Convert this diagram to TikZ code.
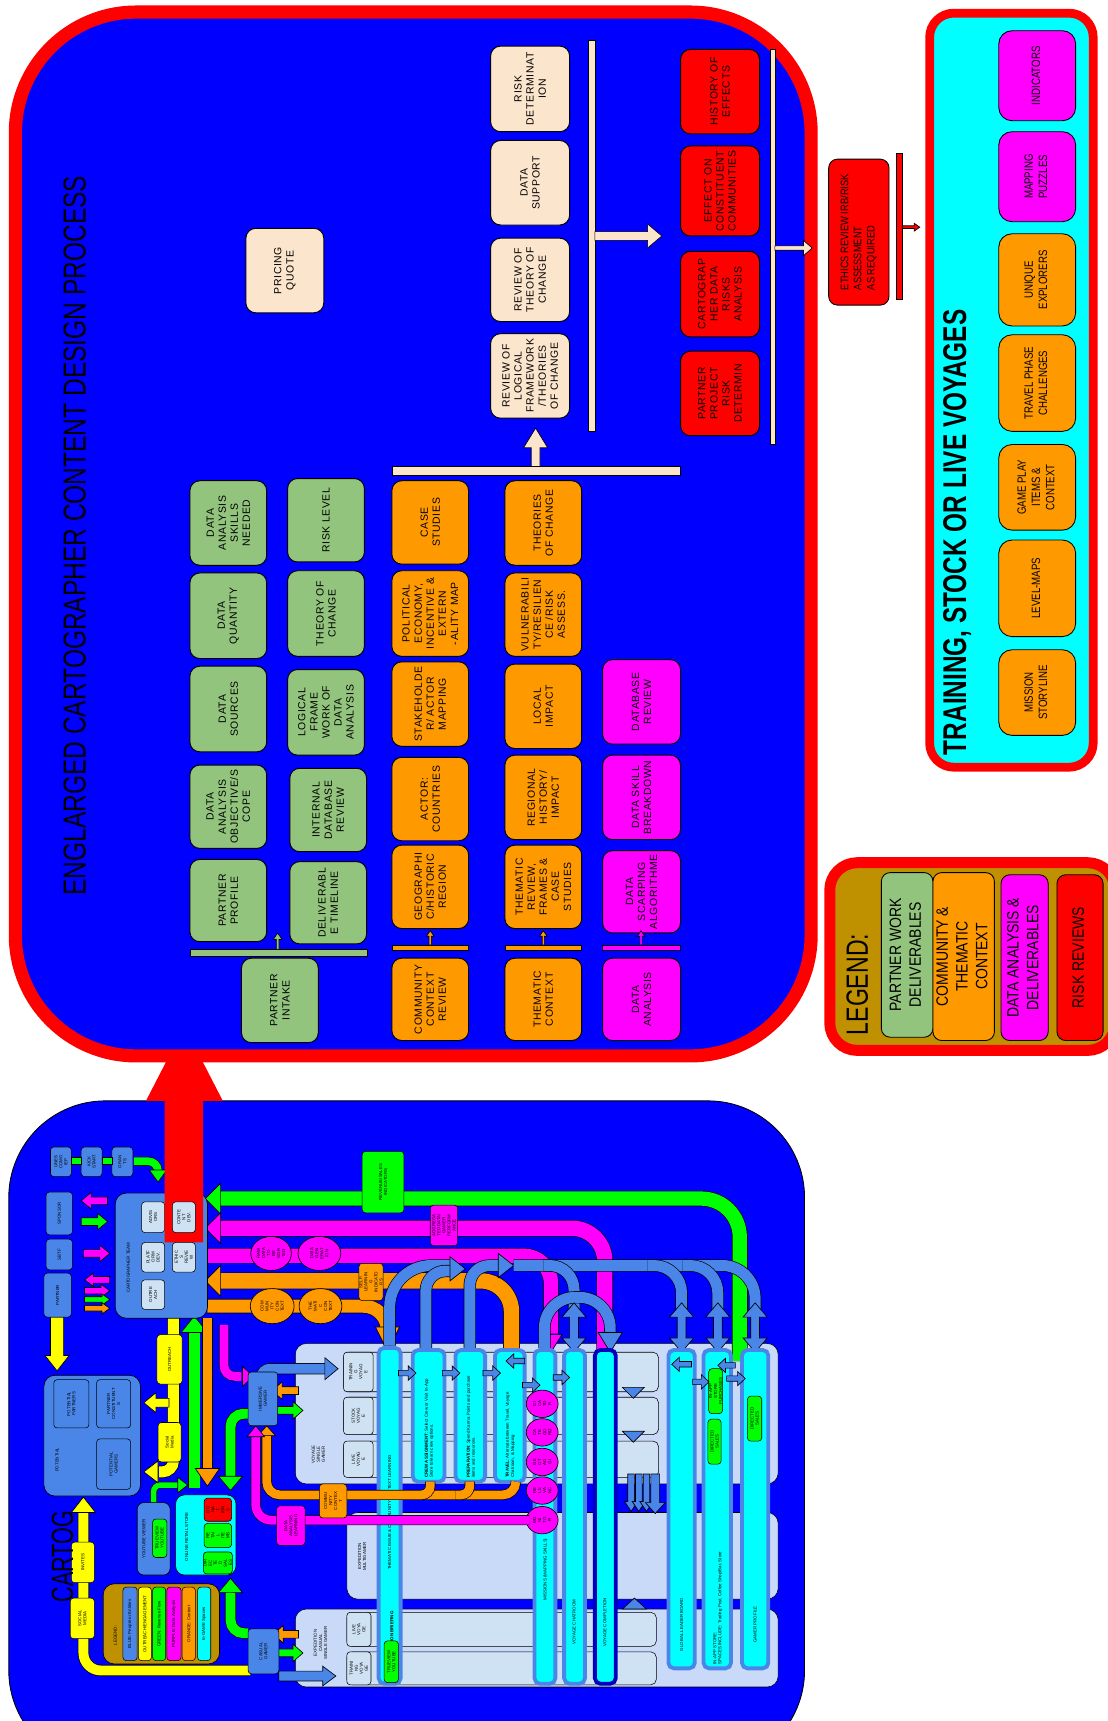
\documentclass[tikz,border=0pt]{standalone}
\usepackage{fontspec}
\usepackage{graphicx}
\setmainfont{Liberation Sans}
\newfontfamily\bxfont[LetterSpace=6]{Liberation Sans}
\usetikzlibrary{shapes.geometric}
\definecolor{pgreen}{HTML}{93C47D}
\definecolor{porange}{HTML}{FF9900}
\definecolor{pbeige}{HTML}{FCE5CD}
\definecolor{bblue}{HTML}{4A86E8}
\definecolor{lpanel}{HTML}{C9DAF8}
\definecolor{lbox}{HTML}{CFE2F3}
\definecolor{lgold}{HTML}{BF9000}
\definecolor{cyan}{RGB}{0,255,255}
\definecolor{magenta}{RGB}{255,0,255}
\definecolor{yellow}{RGB}{255,255,0}
\definecolor{green}{RGB}{0,255,0}
\definecolor{red}{RGB}{255,0,0}
\definecolor{blue}{RGB}{0,0,255}
\newcommand{\tny}{\fontsize{4}{4.6}\selectfont}
\newcommand{\cz}[2]{\scalebox{#1}[1]{\begin{tabular}{@{}c@{}}#2\end{tabular}}}
\newcommand{\cl}[2]{\scalebox{#1}[1]{\begin{tabular}{@{}l@{}}#2\end{tabular}}}
% box: name, x1,y1,x2,y2, style, text (rotated text)
\newcommand{\bx}[7]{\node[#6, rotate=90, minimum width={(#5-#3)*1pt}, minimum height={(#4-#2)*1pt}] (#1) at ({(#2+#4)/2},{(#3+#5)/2}) {#7};}
% arrow head: tip x,y, angle, length, half width, colour
\newcommand{\ah}[6]{\draw[fill=#6, line width=0.6pt, shift={(#1,#2)}, rotate=#3] (0,0) -- (-#4,#5) -- (-#4,-#5) -- cycle;}
% horizontal block arrow: x1, x2(tip), y, shaft w, head w, head l, colour
\newcommand{\hblk}[7]{\pgfmathsetmacro{\hs}{((#2>#1)*2-1)*#6}%
 \draw[fill=#7, line width=0.6pt] (#1,{#3-#4/2}) -- ({#2-\hs},{#3-#4/2}) -- ({#2-\hs},{#3-#5/2}) -- (#2,#3) -- ({#2-\hs},{#3+#5/2}) -- ({#2-\hs},{#3+#4/2}) -- (#1,{#3+#4/2}) -- cycle;}
% vertical block arrow: y1, y2(tip), x, shaft w, head w, head l, colour
\newcommand{\vblk}[7]{\pgfmathsetmacro{\hs}{((#2>#1)*2-1)*#6}%
 \draw[fill=#7, line width=0.6pt] ({#3-#4/2},#1) -- ({#3-#4/2},{#2-\hs}) -- ({#3-#5/2},{#2-\hs}) -- (#3,#2) -- ({#3+#5/2},{#2-\hs}) -- ({#3+#4/2},{#2-\hs}) -- ({#3+#4/2},#1) -- cycle;}
% vertical double block arrow: y1 (top), y2 (bottom), x, shaft w, head w, head l, colour
\newcommand{\dblk}[7]{%
 \draw[fill=#7, line width=0.6pt] ({#3-#4/2},{#1+#6}) -- ({#3-#5/2},{#1+#6}) -- (#3,#1) -- ({#3+#5/2},{#1+#6}) -- ({#3+#4/2},{#1+#6}) -- ({#3+#4/2},{#2-#6}) -- ({#3+#5/2},{#2-#6}) -- (#3,#2) -- ({#3-#5/2},{#2-#6}) -- ({#3-#4/2},{#2-#6}) -- cycle;}
\tikzset{
 tb/.style={draw=black, line width=0.9pt, rounded corners=9pt, inner sep=1pt, align=center, font=\bxfont\fontsize{9.5}{11}\selectfont},
 gb/.style={tb, fill=pgreen}, ob/.style={tb, fill=porange}, mb/.style={tb, fill=magenta},
 beb/.style={tb, fill=pbeige}, rb/.style={tb, fill=red},
 etb/.style={draw=black, line width=0.8pt, rounded corners=8pt, fill=red, inner sep=1pt, align=left, font=\fontsize{10}{12}\selectfont},
 trb/.style={draw=black, line width=0.8pt, rounded corners=12pt, inner sep=1pt, align=center, font=\fontsize{11}{13}\selectfont},
 lgb/.style={draw=black, line width=0.8pt, rounded corners=8pt, inner sep=1pt, align=center, font=\fontsize{15}{18}\selectfont},
 sb/.style={draw=black, line width=0.5pt, rounded corners=3pt, inner sep=0.3pt, align=center, font=\tny},
 sbb/.style={sb, fill=bblue}, slb/.style={sb, fill=lbox}, syb/.style={sb, fill=yellow},
 sgb/.style={sb, fill=green}, smb/.style={sb, fill=magenta}, sob/.style={sb, fill=porange}, srb/.style={sb, fill=red},
 pp/.style 2 args={draw=black, line width=0.6pt, double=#1, double distance=#2},
 lp/.style={draw=black, line width=0.5pt, fill=lpanel, rounded corners=10pt},
 lrow/.style={draw=black, line width=0.5pt, fill=lbox, rounded corners=5pt},
 colst/.style={draw=bblue, line width=3.5pt, fill=cyan, rounded corners=5pt},
 el/.style={ellipse, draw=black, line width=0.6pt, inner sep=0pt, align=center, font=\tny, rotate=90},
 tl/.style={rotate=90, font=\tny, align=center, inner sep=0.5pt}
}
\begin{document}
\begin{tikzpicture}[x=1pt, y=-1pt]
\useasboundingbox (0,0) rectangle (1009,1568);
\fill[white] (0,0) rectangle (1009,1568);

%================ BOTTOM PANEL =================
\draw[fill=blue, line width=0.8pt, rounded corners=88pt] (8,1003) rectangle (733,1610);

% light panels
\draw[lp] (269,1224) rectangle (709,1352);
\draw[lp] (316,1378) rectangle (709,1457);
\draw[lp] (269,1466) rectangle (709,1537);
\draw[lrow] (313,1232) rectangle (600,1268);
\draw[lrow] (313,1273) rectangle (600,1307);
\draw[lrow] (313,1313) rectangle (600,1346);
\draw[lrow] (316,1469) rectangle (598,1500);
\draw[lrow] (316,1505) rectangle (598,1535);
\bx{tvoy}{313}{1232}{340}{1268}{slb}{TRAININ\\G\\VOYAG\\E}
\bx{svoy}{313}{1273}{340}{1307}{slb}{STOCK\\VOYAG\\E}
\bx{lvoy}{313}{1313}{340}{1346}{slb}{LIVE\\VOYAG\\E}
\bx{lvoy2}{316}{1469}{338}{1500}{slb}{LIVE\\VOYA\\GE}
\bx{tvoy2}{316}{1505}{338}{1535}{slb}{TRAINI\\NG\\VOYA\\GE}
\node[tl] (vsg) at (290,1325) {VOYAGE\\SINGLE\\GAMER};
\node[tl] (emg) at (330,1418) {EXPEDITION\\MULTIGAMER};
\node[tl] (ecs) at (292,1497) {EXPEDITION\\CASUAL\\SINGLE GAMER};

% bands from the right
\draw[pp={green}{13pt}, rounded corners=35pt] (196,1092) -- (674,1092) -- (674,1240);
\ah{187}{1092}{180}{14}{14}{green}
\draw[pp={magenta}{14pt}, rounded corners=30pt] (196,1119) -- (551,1119) -- (551,1232);
\ah{187}{1119}{180}{14}{14}{magenta}
\draw[pp={magenta}{13pt}, rounded corners=25pt] (189,1144) -- (502,1144) -- (502,1215);
\ah{502}{1232}{270}{16}{10}{magenta}
\draw[pp={porange}{14pt}, rounded corners=28pt] (196,1167) -- (466,1167) -- (466,1232);
\ah{187}{1167}{180}{14}{14}{porange}
\draw[pp={porange}{12pt}, rounded corners=22pt] (189,1190) -- (353,1190) -- (353,1210);
\ah{353}{1231}{270}{22}{11}{porange}

\bx{rev}{330}{1049}{368}{1105}{sgb}{REVENUE/SALES\\INDICATORS}
\bx{agg}{392}{1098}{417}{1135}{smb}{AGGREGA\\TED DATA/\\GAMER\\PERFORM\\ANCE}
\bx{sli}{327}{1151}{349}{1185}{sob}{SELF-\\LEARNIN\\G\\INDICATO\\RS}
\node[el, fill=magenta, minimum width=31pt, minimum height=37pt] (raw) at (247,1142) {RAW\\DATA\\TO\\BE\\SOR\\TED};
\node[el, fill=magenta, minimum width=31pt, minimum height=39pt] (dgen) at (291,1142) {DATA\\GEN\\ERAT\\ION};
\node[el, fill=porange, minimum width=32pt, minimum height=40pt] (cctx) at (248,1190) {COM\\MUN\\ITY\\CON\\TEXT};
\node[el, fill=porange, minimum width=32pt, minimum height=39pt] (tctx) at (292,1190) {THE\\MATI\\C\\CON\\TEXT};

% blue arches
\draw[pp={bblue}{10pt}, rounded corners=38pt] (355,1226) -- (355,1153) -- (412,1153);
\draw[pp={bblue}{10pt}, rounded corners=18pt] (388,1228) -- (388,1158) -- (410,1158);
\ah{424}{1156}{0}{14}{11}{bblue}
\draw[pp={bblue}{10pt}, rounded corners=18pt] (428,1228) -- (428,1153) -- (455,1153);
\ah{468}{1153}{0}{14}{11}{bblue}
\draw[pp={bblue}{10pt}, rounded corners=30pt] (468,1153) -- (688,1153) -- (688,1195);
\draw[pp={bblue}{10pt}, rounded corners=25pt] (590,1153) -- (621,1153) -- (621,1195);
\draw[pp={bblue}{10pt}, rounded corners=25pt] (622,1153) -- (654,1153) -- (654,1195);
\draw[pp={bblue}{10pt}, rounded corners=22pt] (495,1153) -- (523,1153) -- (523,1195);
\draw[pp={bblue}{10pt}, rounded corners=28pt] (496,1228) -- (496,1182) -- (556,1182) -- (556,1214);
\ah{556}{1232}{270}{18}{11}{bblue}
\dblk{1187}{1232}{523}{8}{22}{13}{bblue}
\dblk{1187}{1232}{621}{8}{22}{13}{bblue}
\dblk{1187}{1232}{654}{8}{22}{13}{bblue}
\dblk{1187}{1232}{688}{8}{22}{13}{bblue}

% columns
\draw[colst] (345,1228) rectangle (365,1534);
\draw[colst] (376,1230) rectangle (405,1350);
\draw[colst] (415,1230) rectangle (442,1350);
\draw[colst] (451,1230) rectangle (478,1350);
\draw[colst] (487,1230) rectangle (506,1534);
\draw[colst] (514,1230) rectangle (533,1534);
\draw[colst, draw=blue!75!black] (542,1230) rectangle (561,1534);
\draw[colst] (609,1230) rectangle (633,1520);
\draw[colst] (641,1230) rectangle (666,1520);
\draw[colst] (676,1230) rectangle (700,1520);

\node[tl] (c1t) at (355,1378) {THEMATIC ISSUE \& COMMUNITY CONTEXT LEARNING};
\node[tl, anchor=west, font=\tny\bfseries] (c1b) at (357,1506) {MISSION BRIEFING};
\bx{tv1}{350}{1495}{363}{1533}{sgb}{TRUEVIEW\\YOUTUBE}
\node[tl, anchor=west, align=left] (c2t) at (391,1347) {\textbf{CREW ASSIGNMENT}: Select Crew or Visit In-App\\Store to learn crew options.};
\node[tl, anchor=west, align=left] (c3t) at (429,1347) {\textbf{PREPARATION}: Spend Karma Points and purchase\\items and resources.};
\node[tl, anchor=west, align=left] (c4t) at (465,1347) {\textbf{TRAVEL}: Alternate between Travel, Voyage\\Chatroom, \& Mapping};
\node[tl] (c5t) at (497,1430) {MISSIONS (MAPPING SKILLS)};
\node[tl] (c6t) at (523,1478) {VOYAGE CHATROOM};
\node[tl] (c7t) at (551,1478) {VOYAGE COMPLETION};
\node[tl] (c8t) at (621,1480) {GLOBAL LEADER BOARD};
\node[tl, anchor=west, align=left] (c9t) at (654,1517) {IN-APP STORE:\\SPACES INCLUDE: Trading Post, Coffee Shop/Bar, Store};
\node[tl] (c10t) at (688,1480) {GAMER PROFILE};
\bx{ip1}{646}{1247}{658}{1288}{sgb}{IN-APP\\STORE\\PURCHASES}
\bx{ds1}{645}{1293}{657}{1334}{sgb}{DIRECTED\\SALES}
\bx{ds2}{681}{1272}{694}{1313}{sgb}{DIRECTED\\SALES}

% mission ellipses
\node[el, fill=magenta, minimum width=25pt, minimum height=29pt] (m1) at (494,1279) {DI\\CA\\TO\\R};
\node[el, fill=magenta, minimum width=25pt, minimum height=29pt] (m2) at (494,1305) {CA\\TE\\GO\\RIZ};
\node[el, fill=magenta, minimum width=25pt, minimum height=29pt] (m3) at (494,1332) {GE\\OT\\AG\\GI};
\node[el, fill=magenta, minimum width=25pt, minimum height=29pt] (m4) at (494,1358) {RE\\LE\\VA\\NC};
\node[el, fill=magenta, minimum width=25pt, minimum height=29pt] (m5) at (494,1385) {MO\\NI\\TO\\R};

% small arrows between columns
\hblk{363}{379}{1251}{5}{13}{7}{bblue}
\hblk{403}{419}{1251}{5}{13}{7}{bblue}
\hblk{440}{456}{1251}{5}{13}{7}{bblue}
\hblk{478}{461}{1240}{5}{13}{7}{bblue}
\hblk{476}{492}{1262}{5}{13}{7}{bblue}
\hblk{504}{519}{1255}{5}{13}{7}{bblue}
\hblk{630}{612}{1243}{5}{13}{7}{bblue}
\hblk{631}{646}{1259}{5}{13}{7}{bblue}
\hblk{670}{654}{1244}{5}{13}{7}{bblue}
\hblk{662}{679}{1256}{5}{13}{7}{bblue}
\ah{577}{1274}{270}{10}{10}{bblue}
\ah{577}{1314}{270}{10}{10}{bblue}
\vblk{1343}{1377}{575}{6}{12}{9}{bblue}
\vblk{1343}{1377}{582}{6}{12}{9}{bblue}
\vblk{1343}{1377}{589}{6}{12}{9}{bblue}
\vblk{1343}{1379}{597}{8}{18}{10}{bblue}
\ah{578}{1456}{90}{10}{11}{bblue}

% pipes on the left of the voyage panels
\draw[pp={porange}{8pt}, rounded corners=12pt] (243,1308) -- (243,1362) -- (470,1362) -- (470,1350);
\draw[pp={porange}{8pt}, rounded corners=8pt] (380,1362) -- (392,1362) -- (392,1350);
\draw[pp={porange}{8pt}, rounded corners=8pt] (415,1362) -- (428,1362) -- (428,1350);
\ah{243}{1299}{90}{9}{8}{porange}
\draw[pp={magenta}{8pt}, rounded corners=14pt] (233,1309) -- (233,1385) -- (482,1385);
\ah{233}{1299}{90}{10}{8}{magenta}
\bx{cctxb}{291}{1352}{316}{1383}{sob}{COMMU\\NITY\\CONTEX\\T}
\bx{dal}{252}{1372}{278}{1408}{smb}{DATA\\ANALYSIS\\LEARNING}

% gamers
\draw[pp={magenta}{8pt}, rounded corners=10pt] (204,1207) -- (204,1254) -- (220,1254);
\ah{231}{1254}{0}{10}{9}{magenta}
\draw[pp={bblue}{9pt}, rounded corners=8pt] (238,1256) -- (238,1247) -- (296,1247);
\ah{308}{1247}{0}{12}{10}{bblue}
\hblk{272}{248}{1267}{7}{16}{9}{porange}
\hblk{250}{276}{1285}{7}{16}{9}{green}
\draw[pp={green}{9pt}, rounded corners=12pt] (226,1288) -- (210,1288) -- (210,1345);
\ah{210}{1358}{270}{13}{11}{green}
\bx{imm}{226}{1250}{253}{1299}{sbb}{IMMERSIVE\\GAMER}
\draw[pp={green}{9pt}, rounded corners=12pt] (210,1450) -- (210,1488) -- (226,1488);
\ah{210}{1438}{90}{13}{11}{green}
\draw[pp={yellow}{9pt}, rounded corners=16pt] (228,1522) -- (76,1522) -- (76,1378);
\ah{76}{1364}{90}{14}{11}{yellow}
\hblk{272}{249}{1489}{7}{16}{9}{porange}
\hblk{254}{276}{1506}{7}{16}{9}{green}
\hblk{254}{306}{1527}{9}{18}{12}{bblue}
\bx{cas}{226}{1484}{254}{1525}{sbb}{CASUAL\\GAMER}
\bx{inv}{65}{1405}{86}{1442}{syb}{INVITES}
\bx{smed}{64}{1456}{86}{1493}{syb}{SOCIAL\\MEDIA}

% big title fragment
\node[rotate=90, anchor=west, font=\fontsize{28}{30}\selectfont, inner sep=0pt] (cartog) at (57,1460) {\scalebox{0.7}[1]{CARTOG}};

% legend (bottom)
\draw[fill=lgold, line width=0.6pt, rounded corners=10pt] (94,1443) rectangle (200,1516);
\node[tl] (leg2) at (105,1490) {LEGEND:};
\bx{lb1}{112}{1446}{125}{1513}{sbb}{BLUE: People or Entities}
\bx{lb2}{126}{1446}{138}{1513}{syb}{OUTREACH/ENGAGEMENT}
\bx{lb3}{139}{1446}{151}{1513}{sgb}{GREEN: Revenue Flow}
\bx{lb4}{152}{1446}{165}{1513}{smb}{PURPLE: Data Analysis}
\bx{lb5}{166}{1446}{178}{1513}{sob}{ORANGE: Context}
\bx{lb6}{180}{1446}{192}{1513}{sb, fill=cyan}{In-GAME Spaces}

% youtube and store
\draw[pp={green}{5pt}, rounded corners=6pt] (140,1369) -- (140,1353) -- (162,1353);
\ah{171}{1353}{0}{9}{7}{green}
\draw[fill=bblue, line width=0.6pt, rounded corners=6pt] (125,1369) rectangle (155,1435);
\node[tl] (ytv) at (131,1402) {YOUTUBE VIEWER};
\bx{tvy}{139}{1384}{152}{1419}{sgb}{TRUEVIEW\\YOUTUBE}
\draw[fill=cyan, line width=0.6pt, rounded corners=8pt] (160,1362) rectangle (215,1435);
\node[tl] (ors) at (170,1400) {ONLINE RETAIL STORE};
\bx{don}{186}{1365}{211}{1386}{srb}{DO\\NA\\T.\\ION\\S}
\bx{ret}{186}{1388}{211}{1410}{sgb}{RE\\TAI\\L\\ITE\\MS}
\bx{dsl}{186}{1414}{211}{1434}{sgb}{DIR\\EC\\TE\\D\\SAL\\ES}

% vertical flows below the team
\draw[pp={green}{10pt}] (177,1356) -- (177,1214);
\ah{177}{1199}{90}{15}{12}{green}
\draw[pp={porange}{9pt}] (189,1201) -- (189,1338);
\ah{189}{1354}{270}{16}{11}{porange}
\draw[pp={yellow}{10pt}, rounded corners=10pt] (158,1201) -- (158,1341) -- (145,1341);
\ah{131}{1341}{180}{13}{10}{yellow}
\hblk{154}{131}{1278}{8}{18}{11}{yellow}
\bx{outr}{143}{1216}{166}{1261}{syb}{OUTREACH}
\bx{socm}{144}{1296}{165}{1332}{syb}{Social\\Media}

% potential panel
\draw[fill=bblue, line width=0.6pt, rounded corners=10pt] (40,1253) rectangle (128,1363);
\node[tl] (pot) at (52,1330) {POTENTIAL};
\bx{ppart}{49}{1257}{81}{1301}{sbb}{POTENTIAL\\PARTNERS}
\bx{pcons}{88}{1257}{119}{1301}{sbb}{PARTNER\\CONSTITUENT\\S}
\bx{pgam}{88}{1311}{119}{1357}{sbb}{POTENTIAL\\GAMERS}
\vblk{1200}{1249}{52}{12}{22}{14}{yellow}

% top-left boxes
\bx{unes}{46}{1045}{65}{1072}{sbb}{UNES\\COMO\\IEP}
\bx{kick}{74}{1045}{93}{1072}{sbb}{KICK\\START}
\bx{gran}{102}{1045}{121}{1072}{sbb}{GRAN\\TS}
\draw[fill=green, line width=0.5pt] (65,1054) rectangle (74,1061);
\draw[fill=green, line width=0.5pt] (93,1054) rectangle (102,1061);
\draw[pp={green}{7pt}, rounded corners=9pt] (122,1058) -- (144,1058) -- (144,1066);
\ah{144}{1077}{270}{11}{8}{green}

\bx{spon}{42}{1086}{66}{1125}{sbb}{SPONSOR}
\bx{sbtf}{42}{1129}{66}{1157}{sbb}{SBTF}
\bx{part}{40}{1160}{65}{1200}{sbb}{PARTNER}
\hblk{98}{74}{1094}{7}{15}{9}{magenta}
\hblk{74}{98}{1113}{7}{15}{9}{green}
\hblk{76}{100}{1142}{7}{15}{9}{magenta}
\hblk{100}{77}{1166}{6}{12}{8}{magenta}
\hblk{77}{100}{1176}{6}{12}{8}{magenta}
\hblk{77}{100}{1184}{5}{10}{7}{green}
\hblk{77}{100}{1192}{5}{10}{7}{porange}

% cartographer team
\draw[fill=bblue, line width=0.6pt, rounded corners=10pt] (105,1087) rectangle (189,1201);
\node[tl] (ctm) at (117,1155) {CARTOGRAPHER TEAM};
\bx{adv}{129}{1095}{150}{1123}{slb}{ADVIS\\ORS}
\bx{plat}{129}{1132}{150}{1159}{slb}{PLATF\\ORM\\DEV.}
\bx{outa}{129}{1166}{150}{1193}{slb}{OUTRE\\ACH}
\fill[red] (150,1132) -- (150,1003) -- (133,1003) -- (168,935) -- (203,1003) -- (185,1003) -- (185,1132) -- cycle;
\bx{cdev}{157}{1095}{178}{1123}{slb}{CONTE\\NT\\DEV.}
\bx{ethr}{157}{1132}{178}{1159}{slb}{ETHIC\\S\\REVIE\\W}

%================ TOP PANEL =================
\draw[line width=12pt, draw=red, fill=blue, rounded corners=110pt] (14,11) rectangle (739,962);
\node[rotate=90, font=\fontsize{29}{30}\selectfont] (title) at (68,488) {\scalebox{0.77}[1]{ENGLARGED CARTOGRAPHER CONTENT DESIGN PROCESS}};

\bx{g1}{173}{438}{243}{515}{gb}{DATA\\ANALYSIS\\SKILLS\\NEEDED}
\bx{g2}{173}{522}{243}{600}{gb}{DATA\\QUANTITY}
\bx{g3}{173}{607}{243}{685}{gb}{DATA\\SOURCES}
\bx{g4}{173}{697}{243}{773}{gb}{DATA\\ANALYSIS\\OBJECTIVE/S\\COPE}
\bx{g5}{173}{783}{243}{858}{gb}{PARTNER\\PROFILE}
\bx{g6}{262}{436}{332}{512}{gb}{RISK LEVEL}
\bx{g7}{262}{520}{332}{598}{gb}{THEORY OF\\CHANGE}
\bx{g8}{262}{610}{332}{688}{gb}{LOGICAL\\FRAME\\WORK OF\\DATA\\ANALYSIS}
\bx{g9}{264}{700}{334}{776}{gb}{INTERNAL\\DATABASE\\REVIEW}
\bx{g10}{264}{785}{334}{860}{gb}{DELIVERABL\\E TIMELINE}
\bx{g11}{220}{873}{290}{950}{gb}{PARTNER\\INTAKE}
\draw[fill=pgreen, line width=0.6pt] (173,865) rectangle (335,871);
\vblk{865}{850}{253}{2.5}{8}{6}{pgreen}

\bx{c1}{357}{438}{427}{514}{ob}{CASE\\STUDIES}
\bx{c2}{357}{520}{427}{598}{ob}{POLITICAL\\ECONOMY,\\INCENTIVE \&\\EXTERN\\-ALITY MAP}
\bx{c3}{357}{603}{427}{680}{ob}{STAKEHOLDE\\R/ ACTOR\\MAPPING}
\bx{c4}{357}{690}{427}{766}{ob}{ACTOR:\\COUNTRIES}
\bx{c5}{357}{770}{427}{846}{ob}{GEOGRAPHI\\C/HISTORIC\\REGION}
\bx{c6}{357}{873}{427}{948}{ob}{COMMUNITY\\CONTEXT\\REVIEW}
\draw[fill=porange, line width=0.6pt] (357,861) rectangle (427,866);
\vblk{861}{848}{392}{2}{7}{5}{porange}

\bx{d1}{460}{438}{530}{515}{ob}{THEORIES\\OF CHANGE}
\bx{d2}{460}{522}{530}{598}{ob}{VULNERABILI\\TY/RESILIEN\\CE /RISK\\ASSESS.}
\bx{d3}{460}{605}{530}{682}{ob}{LOCAL\\IMPACT}
\bx{d4}{460}{688}{530}{765}{ob}{REGIONAL\\HISTORY/\\IMPACT}
\bx{d5}{460}{770}{530}{846}{ob}{THEMATIC\\REVIEW,\\FRAMES \&\\CASE\\STUDIES}
\bx{d6}{460}{873}{530}{948}{ob}{THEMATIC\\CONTEXT}
\draw[fill=porange, line width=0.6pt] (460,861) rectangle (530,866);
\vblk{861}{848}{495}{2}{7}{5}{porange}

\bx{e1}{549}{601}{620}{678}{mb}{DATABASE\\REVIEW}
\bx{e2}{549}{688}{620}{765}{mb}{DATA SKILL\\BREAKDOWN}
\bx{e3}{549}{775}{620}{850}{mb}{DATA\\SCARPING\\ALGORITHME}
\bx{e4}{549}{873}{620}{948}{mb}{DATA\\ANALYSIS}
\draw[fill=magenta, line width=0.6pt] (549,861) rectangle (620,866);
\vblk{861}{848}{584}{2}{7}{5}{magenta}

\draw[fill=pbeige, line width=0.6pt] (357,425) rectangle (620,433);
\vblk{425}{390}{488}{8}{22}{18}{pbeige}
\bx{b1}{447}{304}{519}{381}{beb}{REVIEW OF\\LOGICAL\\FRAMEWORK\\/THEORIES\\OF CHANGE}
\bx{b2}{447}{217}{519}{293}{beb}{REVIEW OF\\THEORY OF\\CHANGE}
\bx{b3}{447}{128}{519}{205}{beb}{DATA\\SUPPORT}
\bx{b4}{447}{42}{519}{120}{beb}{RISK\\DETERMINAT\\ION}
\bx{pq}{224}{208}{295}{285}{beb}{PRICING\\QUOTE}
\draw[fill=pbeige, line width=0.6pt] (536,37) rectangle (542,393);
\hblk{542}{603}{215}{8}{22}{13}{pbeige}

\bx{r1}{620}{45}{692}{122}{rb}{HISTORY OF\\EFFECTS}
\bx{r2}{620}{133}{692}{215}{rb}{EFFECT ON\\CONSTITUENT\\COMMUNITIES}
\bx{r3}{620}{229}{692}{307}{rb}{CARTOGRAP\\HER DATA\\RISKS\\ANALYSIS}
\bx{r4}{620}{320}{692}{397}{rb}{PARTNER\\PROJECT\\RISK\\DETERMIN}
\draw[fill=pbeige, line width=0.6pt] (702,45) rectangle (706,405);
\hblk{706}{740}{226}{4}{14}{8}{pbeige}

%================ ETHICS =================
\bx{eth}{755}{145}{810}{278}{etb}{\cl{0.85}{ETHICS REVIEW IRB/RISK\\ASSESSMENT\\AS REQUIRED}}
\draw[fill=red, line width=0.6pt] (817,140) rectangle (822,273);
\hblk{822}{838}{207}{2.5}{7}{5}{red}

%================ TRAINING PANEL =================
\draw[line width=8pt, draw=red, fill=cyan, rounded corners=22pt] (847,12) rectangle (996,699);
\node[rotate=90, font=\fontsize{30}{32}\selectfont\bfseries] (ttl) at (872,485) {\scalebox{0.74}[1]{TRAINING, STOCK OR LIVE VOYAGES}};
\bx{t1}{910}{28}{980}{110}{trb, fill=magenta}{\cz{0.8}{INDICATORS}}
\bx{t2}{910}{120}{980}{202}{trb, fill=magenta}{\cz{0.8}{MAPPING\\PUZZLES}}
\bx{t3}{910}{213}{980}{297}{trb, fill=porange}{\cz{0.8}{UNIQUE\\EXPLORERS}}
\bx{t4}{910}{305}{980}{393}{trb, fill=porange}{\cz{0.8}{TRAVEL PHASE\\CHALLENGES}}
\bx{t5}{910}{405}{980}{483}{trb, fill=porange}{\cz{0.8}{GAME PLAY\\ITEMS \&\\CONTEXT}}
\bx{t6}{910}{492}{980}{580}{trb, fill=porange}{\cz{0.8}{LEVEL-MAPS}}
\bx{t7}{910}{592}{980}{670}{trb, fill=porange}{\cz{0.8}{MISSION\\STORYLINE}}

%================ LEGEND =================
\draw[line width=10pt, draw=red, fill=lgold, rounded corners=25pt] (756,786) rectangle (1016,957);
\node[rotate=90, font=\fontsize{28}{30}\selectfont] (legt) at (781,897) {\scalebox{0.75}[1]{LEGEND:}};
\bx{l1}{803}{795}{850}{945}{lgb, fill=pgreen}{\cz{0.85}{PARTNER WORK\\DELIVERABLES}}
\bx{l2}{858}{795}{898}{948}{lgb, fill=porange}{\cz{0.85}{COMMUNITY \&\\THEMATIC\\CONTEXT}}
\bx{l3}{912}{797}{955}{948}{lgb, fill=magenta}{\cz{0.85}{DATA ANALYSIS \&\\DELIVERABLES}}
\bx{l4}{963}{797}{1005}{948}{lgb, fill=red}{\cz{0.85}{RISK REVIEWS}}
\end{tikzpicture}
\end{document}
